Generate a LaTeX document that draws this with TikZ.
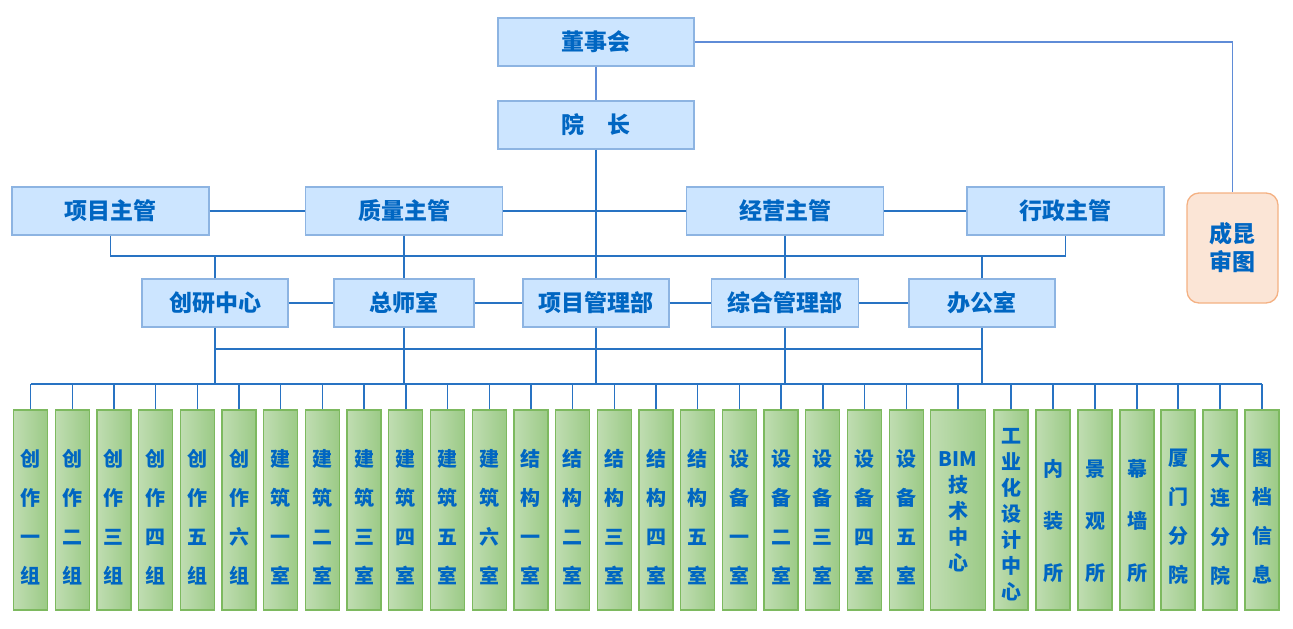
\documentclass[tikz,border=0pt]{standalone}
\usepackage{fontspec}
\setmainfont{Noto Sans CJK SC}
\usepackage{xcolor}
\usepackage{tikz}
\usetikzlibrary{calc}

\definecolor{boxfill}{RGB}{204,229,255}
\definecolor{boxline}{RGB}{141,180,226}
\definecolor{txtblue}{RGB}{0,102,194}
\definecolor{linea}{RGB}{95,140,215}
\definecolor{lineb}{RGB}{40,115,195}
\definecolor{grnL}{RGB}{192,221,178}
\definecolor{grnR}{RGB}{155,202,134}
\definecolor{grnline}{RGB}{125,185,95}
\definecolor{peach}{RGB}{251,229,214}
\definecolor{peachline}{RGB}{244,177,131}

\tikzset{
  topbox/.style={draw=boxline,fill=boxfill,line width=1.3pt,text=txtblue,
    font=\fontsize{23}{28}\selectfont\bfseries,minimum height=48pt,inner sep=0pt},
  subbox/.style={left color=grnL,right color=grnR,draw=grnline,line width=1.3pt,
    minimum height=200pt,inner sep=0pt},
  subtext/.style={text=txtblue,align=center,inner sep=0pt},
  conn/.style={draw=lineb,line width=1.4pt},
  topconn/.style={draw=linea,line width=1.4pt}
}

\begin{document}
\begin{tikzpicture}[x=1pt,y=-1pt]
\useasboundingbox (0,0) rectangle (1293,629);
    \coordinate (bA) at (0,256);
    \coordinate (bB) at (0,349);
    \coordinate (bC) at (0,384);

% board and president
\node[topbox,minimum width=196pt] (dsh) at (596,42) {董事会};
\node[topbox,minimum width=196pt] (yz) at (596,125) {院\hspace{1em}长};
\node[draw=peachline,fill=peach,rounded corners=12pt,line width=1.3pt,minimum width=91pt,
  minimum height=110pt,align=center,text=txtblue,font=\fontsize{23}{28}\selectfont\bfseries]
  (ckst) at (1232.5,248) {成昆\\审图};

% managers
\node[topbox,minimum width=197pt] (xmzg) at (110.5,211) {项目主管};
\node[topbox,minimum width=197pt] (zlzg) at (404,211) {质量主管};
\node[topbox,minimum width=197pt] (jyzg) at (785,211) {经营主管};
\node[topbox,minimum width=197pt] (xzzg) at (1065.5,211) {行政主管};

% departments
\node[topbox,minimum width=146pt] (cyzx) at (215,303) {创研中心};
\node[topbox,minimum width=140pt] (zss) at (404,303) {总师室};
\node[topbox,minimum width=146pt] (xmglb) at (596,303) {项目管理部};
\node[topbox,minimum width=147pt] (zhglb) at (785,303) {综合管理部};
\node[topbox,minimum width=146pt] (bgs) at (982,303) {办公室};

% groups
\foreach \t [count=\i] in {{创\\作\\一\\组},{创\\作\\二\\组},{创\\作\\三\\组},{创\\作\\四\\组},
  {创\\作\\五\\组},{创\\作\\六\\组},{建\\筑\\一\\室},{建\\筑\\二\\室},{建\\筑\\三\\室},
  {建\\筑\\四\\室},{建\\筑\\五\\室},{建\\筑\\六\\室},{结\\构\\一\\室},{结\\构\\二\\室},
  {结\\构\\三\\室},{结\\构\\四\\室},{结\\构\\五\\室},{设\\备\\一\\室},{设\\备\\二\\室},
  {设\\备\\三\\室},{设\\备\\四\\室},{设\\备\\五\\室}}
{
  \node[subbox,minimum width=34pt] (b\i) at ({30.5+41.7*(\i-1)},510) {};
  \node[subtext,font=\fontsize{20}{39}\selectfont\bfseries] (t\i) at ([yshift=-7pt]b\i.center) {\t};
}
\foreach \i/\x/\w/\s/\o/\t in {23/958/55/26/2/{BIM\\技\\术\\中\\心},24/1011/34/26/5/{工\\业\\化\\设\\计\\中\\心},
  25/1053/34/52/11/{内\\装\\所},26/1095/34/52/11/{景\\观\\所},27/1137/34/52/11/{幕\\墙\\所},
  28/1178/34/39/7/{厦\\门\\分\\院},29/1220/34/39/7/{大\\连\\分\\院},30/1262/34/39/7/{图\\档\\信\\息}}
{
  \node[subbox,minimum width=\w pt] (b\i) at (\x,510) {};
  \node[subtext,font=\fontsize{20}{\s}\selectfont\bfseries] (t\i) at ([yshift=-\o pt]b\i.center) {\t};
}

% connectors
\draw[topconn] (dsh.east) -| (ckst.north);
\draw[topconn] (dsh.south) -- (yz.north);
\draw[conn] (yz.south) -- (xmglb.north);
\draw[conn] (xmzg.east) -- (zlzg.west);
\draw[conn] (zlzg.east) -- (jyzg.west);
\draw[conn] (jyzg.east) -- (xzzg.west);
\draw[conn] (xmzg.south) |- (xzzg.south |- bA) -- (xzzg.south);
\draw[conn] (cyzx.north) -- (cyzx.north |- bA);
\draw[conn] (bgs.north) -- (bgs.north |- bA);
\draw[conn] (zlzg.south) -- (zss.north);
\draw[conn] (jyzg.south) -- (zhglb.north);
\draw[conn] (cyzx.east) -- (zss.west);
\draw[conn] (zss.east) -- (xmglb.west);
\draw[conn] (xmglb.east) -- (zhglb.west);
\draw[conn] (zhglb.east) -- (bgs.west);
\foreach \n in {cyzx,zss,xmglb,zhglb,bgs}
  \draw[conn] (\n.south) -- (\n.south |- bC);
\draw[conn] (cyzx.south |- bB) -- (bgs.south |- bB);
\draw[conn] (b1.north |- bC) -- (b30.north |- bC);
\foreach \i in {1,...,30}
  \draw[conn] (b\i.north) -- (b\i.north |- bC);
\end{tikzpicture}
\end{document}
